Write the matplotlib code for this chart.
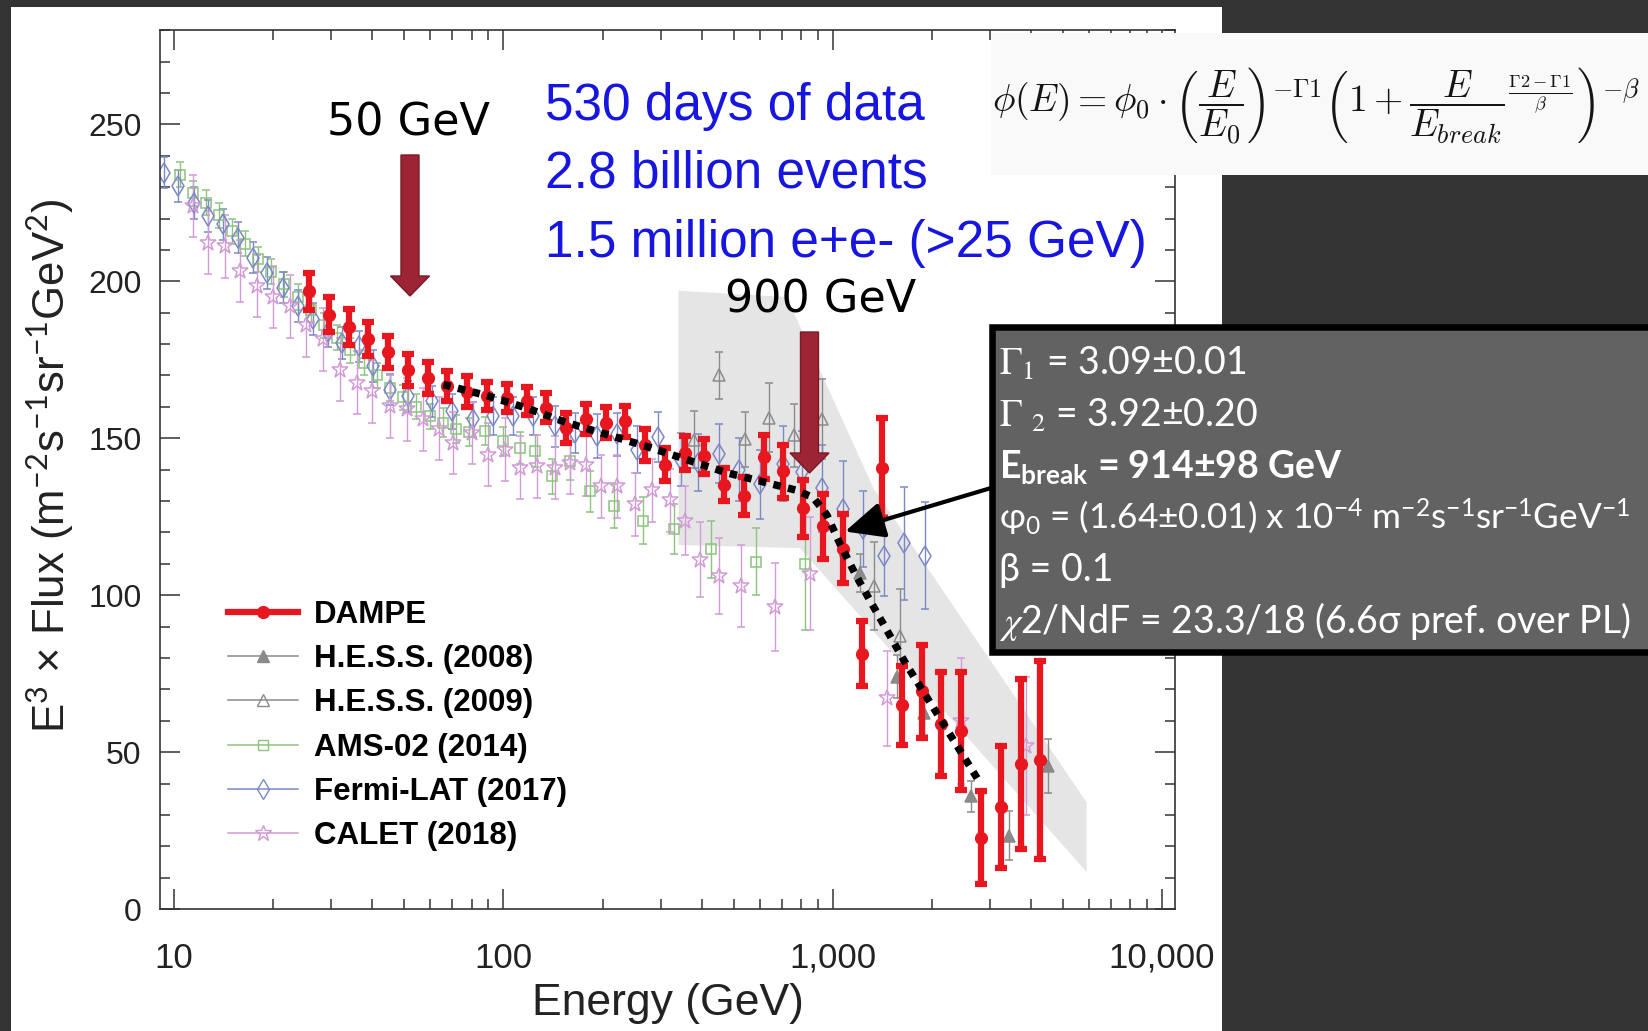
import matplotlib
matplotlib.use("Agg")
import matplotlib.pyplot as plt
from matplotlib import transforms as mtransforms
from matplotlib.patches import Rectangle, FancyArrow, FancyArrowPatch
from matplotlib.lines import Line2D
from matplotlib.ticker import (FixedLocator, FixedFormatter, LogLocator,
                               NullFormatter, MultipleLocator)

plt.rcParams['font.family'] = ['Liberation Sans', 'DejaVu Sans']
plt.rcParams['mathtext.fontset'] = 'custom'
plt.rcParams['mathtext.rm'] = 'Lato'
plt.rcParams['mathtext.it'] = 'Lato:italic'
plt.rcParams['mathtext.bf'] = 'Lato:bold'
plt.rcParams['mathtext.sf'] = 'Lato'

# ------------------------------------------------------------------ data
dampe_E = [25.7, 29.5, 33.9, 38.9, 44.7, 51.3, 58.9, 67.6, 77.6, 89.1,
           102.3, 117.5, 134.9, 154.9, 177.8, 204.2, 234.4, 269.2, 309.0, 354.8,
           407.4, 467.7, 537.0, 616.6, 707.9, 812.8, 933.3, 1071.5, 1230.3, 1412.5,
           1621.8, 1862.1, 2138.0, 2454.7, 2818.4, 3235.9, 3715.4, 4265.8]
dampe_F = [196.9, 189.4, 185.4, 181.5, 177.5, 171.9, 169.2, 166.6, 164.8, 163.5,
           162.8, 161.8, 159.7, 153.3, 156.2, 154.9, 155.4, 148.0, 141.6, 145.3,
           144.3, 135.2, 131.5, 144.0, 139.5, 127.7, 122.0, 114.8, 81.4, 140.4,
           65.0, 69.4, 58.9, 56.7, 22.7, 32.6, 46.3, 47.4]
dampe_err = [5.9, 5.6, 5.8, 5.4, 5.0, 5.1, 5.0, 4.8, 4.9, 4.4,
             4.5, 4.5, 4.6, 4.7, 4.8, 4.9, 5.0, 5.1, 5.2, 5.4,
             5.6, 5.3, 6.1, 6.9, 8.5, 9.0, 10.4, 11.0, 10.4, 15.9,
             12.6, 14.8, 16.5, 18.7, 14.8, 19.5, 27.0, 31.5]

fermi_E = [9.3, 10.3, 11.5, 12.7, 14.1, 15.6, 17.4, 19.2, 21.4, 23.8,
           26.4, 29.3, 32.3, 36.3, 40.3, 45.3, 51.4, 60.5, 69.7, 81.1,
           93.2, 107, 123, 143.5, 165, 192, 221, 254, 295, 345,
           391, 452, 520, 600, 708, 806, 930, 1077, 1238, 1431,
           1645, 1909]
fermi_F = [234.6, 230.4, 225.0, 220.8, 218.1, 213.9, 207.5, 202.7, 198.0, 192.1,
           188.0, 184.0, 180.4, 179.3, 173.0, 165.5, 163.4, 161.8, 158.6, 156.0,
           157.0, 157.0, 157.0, 153.8, 151.7, 150.6, 151.2, 146.4, 150.3, 143.2,
           142.2, 145.1, 140.0, 135.4, 141.9, 139.4, 134.0, 127.6, 121.1, 112.6,
           116.5, 112.6]
fermi_err = [5, 5, 5, 5, 5, 5, 5, 5, 5, 5,
             5, 5, 5, 5, 5, 5, 5, 5, 5.5, 5.5,
             6, 6, 6, 6.5, 6.5, 7, 7, 7.5, 8, 8.5,
             9, 9.5, 10, 11, 12, 13, 14, 15, 12, 13,
             18, 17]

ams_E = [10.4, 11.4, 12.5, 13.7, 15.0, 16.4, 18.0, 19.7, 21.6, 23.7,
         26.0, 28.5, 31.3, 34.3, 37.6, 41.2, 45.2, 49.6, 54.4, 59.7,
         65.5, 71.8, 78.8, 88, 100, 112, 125, 140, 159, 183,
         216, 265, 330, 428, 585, 825]
ams_F = [234, 228, 225, 221, 216, 212, 207, 203, 199, 195,
         191, 186, 182, 178, 174, 170, 166, 163, 160, 157,
         155, 153, 152, 152.2, 149, 146.9, 146, 137.9, 142.7, 133.1,
         128.3, 123.7, 121.0, 114.6, 110.7, 110.0]
ams_err = [4, 4, 4, 4, 4, 4, 4, 4, 4, 4,
           4, 4, 4, 4, 4, 4, 4, 4, 4, 4,
           4.5, 4.5, 4.5, 4.5, 4.5, 5, 5, 5.5, 6, 6.5,
           7, 7.5, 8, 9, 10.6, 21]

calet_E = [11.4, 12.7, 14.3, 15.9, 17.8, 20.0, 22.5, 25.2, 28.4, 31.9,
           35.9, 39.8, 45.3, 50.9, 57.0, 63.5, 70.5, 80.2, 90.0, 101,
           112, 126, 143, 159, 178, 198, 221, 250, 283, 320,
           357, 395, 450, 528, 666, 855, 1465, 2450, 3860]
calet_F = [224.0, 212.3, 211.2, 203.3, 198.5, 195.0, 192.1, 186.0, 181.5, 171.9,
           167.7, 165.0, 160.2, 159.2, 156.0, 153.0, 148.5, 151.7, 144.8, 146.4,
           140.6, 141.1, 140.6, 142.2, 141.6, 134.7, 134.7, 128.9, 133.4, 130.2,
           123.7, 111.3, 106.1, 102.9, 96.3, 106.8, 67.1, 60.0, 52.1]
calet_err = [10, 10, 10, 10, 10, 10, 10, 10, 10, 10,
             10, 10, 10, 10, 10, 10, 10, 10, 10, 10,
             10, 10, 10, 10, 10, 10, 10, 10, 10, 10,
             11, 12, 12, 13, 14, 18, 15, 20, 22]

hess08_E = [1213, 1567, 1896, 2623, 3425, 4500]
hess08_F = [107.0, 74.1, 62.5, 35.9, 23.4, 45.6]
hess08_err = [6, 7, 7, 5, 7.7, 8.5]

hess09_E = [378, 450, 543, 638, 760, 926, 1330, 1600]
hess09_F = [149.6, 170.0, 149.7, 156.5, 151.0, 156.2, 102.8, 87.0]
hess09_err = [9, 7.4, 8.8, 11, 10, 12.7, 14, 15]

fit_E = [65.7, 89, 117.7, 155.6, 206, 272, 360, 477, 631, 778, 874, 960,
         1050, 1180, 1330, 1668, 2110, 2800]
fit_F = [167.1, 163.6, 159.6, 155.0, 151.2, 147.4, 143.2, 139.0, 135.8, 133.4,
         131.0, 125.5, 116.5, 106.0, 96.3, 78.1, 61.0, 40.2]

band_E = [340, 725, 1330, 5900, 5900, 795, 340]
band_F = [197, 195, 134, 34, 11.8, 115, 116]

x_ticks = [10, 100, 1000, 10000]
x_tick_labels = ['10', '100', '1,000', '10,000']

legend_labels = ['DAMPE', 'H.E.S.S. (2008)', 'H.E.S.S. (2009)',
                 'AMS-02 (2014)', 'Fermi-LAT (2017)', 'CALET (2018)']

info_lines = [r'$\Gamma_1$ = 3.09±0.01',
              r'$\Gamma$ $_2$ = 3.92±0.20',
              r'E$_{\mathbf{break}}$ = 914±98 GeV',
              r'φ$_0$ = (1.64±0.01) x 10$^{-4}$ m$^{-2}$s$^{-1}$sr$^{-1}$GeV$^{-1}$',
              'β = 0.1',
              r'$\chi$2/NdF = 23.3/18 (6.6σ pref. over PL)']
info_math = ['stix', 'stix', 'custom', 'custom', 'custom', 'stix']
info_size = [27, 27, 27, 25.3, 27, 27]
blue_lines = ['530 days of data', '2.8 billion events', '1.5 million e+e- (>25 GeV)']
formula = (r'$\phi(E) = \phi_0 \cdot \left(\dfrac{E}{E_0}\right)^{-\Gamma 1}'
           r'\left(1 + {\dfrac{E}{E_{break}}}^{\frac{\Gamma 2-\Gamma 1}{\beta}}\right)^{-\beta}$')

# ------------------------------------------------------------------ figure
W, H = 1649, 1031
fig = plt.figure(figsize=(W / 100, H / 100), dpi=100)
fig.patch.set_facecolor('#333333')
PX = mtransforms.Affine2D().scale(1, -1).translate(0, H)   # top-left pixel coords

fig.add_artist(Rectangle((11, 7), 1211, 1030, transform=PX, facecolor='white',
                         edgecolor='none', zorder=-1))

ax = fig.add_axes([160 / W, 1 - 909.1 / H, (1175.3 - 160) / W, (909.1 - 30.2) / H])
ax.set_facecolor('none')
ax.set_xscale('log')
ax.set_xlim(9.06, 10965)
ax.set_ylim(0, 280)

RED = '#e8161e'
GRAY = '#8a8a8a'
GREEN = '#8cc47e'
BLUE = '#7c88c6'
PINK = '#d29ad6'

ax.fill(band_E, band_F, color='#e5e5e5', lw=0, zorder=0.5)

common = dict(elinewidth=1.0, capsize=3, capthick=1.0, mew=1.1, zorder=2)
ax.errorbar(ams_E, ams_F, yerr=ams_err, fmt='s', ms=7.5, mfc='none', mec=GREEN,
            ecolor=GREEN, **common)
ax.errorbar(fermi_E, fermi_F, yerr=fermi_err, fmt='d', ms=10, mfc='none', mec=BLUE,
            ecolor=BLUE, **common)
ax.errorbar(calet_E, calet_F, yerr=calet_err, fmt='*', ms=12, mfc='none', mec=PINK,
            ecolor=PINK, **common)
ax.errorbar(hess09_E, hess09_F, yerr=hess09_err, fmt='^', ms=8.5, mfc='none', mec=GRAY,
            ecolor=GRAY, **common)
ax.errorbar(hess08_E, hess08_F, yerr=hess08_err, fmt='^', ms=8.5, mfc=GRAY, mec=GRAY,
            ecolor=GRAY, **common)
ax.errorbar(dampe_E, dampe_F, yerr=dampe_err, fmt='o', ms=8.5, color=RED, mec=RED,
            elinewidth=4.5, capsize=4.5, capthick=4.5, zorder=3)
ax.plot(fit_E, fit_F, color='black', lw=5.4, ls=(0, (1.0, 1.0)),
        dash_capstyle='butt', zorder=4)

ax.xaxis.set_major_locator(FixedLocator(x_ticks))
ax.xaxis.set_major_formatter(FixedFormatter(x_tick_labels))
ax.xaxis.set_minor_locator(LogLocator(base=10, subs=[2, 3, 4, 5, 6, 7, 8, 9]))
ax.xaxis.set_minor_formatter(NullFormatter())
ax.yaxis.set_major_locator(MultipleLocator(50))
ax.yaxis.set_minor_locator(MultipleLocator(10))
ax.tick_params(which='both', direction='in', top=True, right=True,
               width=1.1, color='#333333', labelcolor='#222222')
ax.tick_params(which='major', length=14.4)
ax.tick_params(which='minor', length=7.2)
ax.tick_params(axis='x', which='major', labelsize=25, pad=23.5)
ax.tick_params(axis='y', which='major', labelsize=23, pad=13.2)
for sp in ax.spines.values():
    sp.set_linewidth(1.2)
    sp.set_color('#333333')

ax.set_ylabel(r'E$^3$ × Flux (m$^{-2}$s$^{-1}$sr$^{-1}$GeV$^2$)', fontsize=31.5,
              color='#222222')
ax.yaxis.set_label_coords(-0.083, 0.504)
ax.set_xlabel('Energy (GeV)', fontsize=32, color='#222222')
ax.xaxis.set_label_coords(0.5, -0.0841)

handles = [Line2D([], [], color=RED, lw=4.5, marker='o', ms=8.5),
           Line2D([], [], color=GRAY, lw=1.1, marker='^', ms=8.5, mfc=GRAY, mec=GRAY),
           Line2D([], [], color=GRAY, lw=1.1, marker='^', ms=8.5, mfc='none', mec=GRAY),
           Line2D([], [], color=GREEN, lw=1.1, marker='s', ms=7.5, mfc='none', mec=GREEN),
           Line2D([], [], color=BLUE, lw=1.1, marker='d', ms=10, mfc='none', mec=BLUE),
           Line2D([], [], color=PINK, lw=1.1, marker='*', ms=12, mfc='none', mec=PINK)]
ax.legend(handles, legend_labels, loc='upper left',
          bbox_to_anchor=((228.5 - 160) / 1015.3, (909.1 - 600) / 878.9),
          frameon=False, prop={'family': 'Liberation Sans', 'weight': 'bold', 'size': 22.5},
          handlelength=2.24, handletextpad=0.49, labelspacing=0.455,
          borderpad=0, borderaxespad=0)

# ------------------------------------------------------------------ annotations
def block_arrow(x, y0, y1):
    fig.add_artist(FancyArrow(x, y0, 0, y1 - y0, width=18, head_width=39,
                              head_length=20, length_includes_head=True, transform=PX,
                              facecolor='#9c2434', edgecolor='#7a1a28', lw=1, zorder=5))

block_arrow(410, 155, 296)
block_arrow(809.5, 332, 473)

fig.text(409 / W, 1 - 135 / H, '50 GeV', fontsize=32, family='DejaVu Sans',
         ha='center', va='baseline', color='black', zorder=6)
fig.text(821 / W, 1 - 313 / H, '900 GeV', fontsize=32, family='DejaVu Sans',
         ha='center', va='baseline', color='black', zorder=6)

for s, yb in zip(blue_lines, [120, 188, 257]):
    fig.text(545 / W, 1 - yb / H, s, fontsize=37, family='Liberation Sans',
             ha='left', va='baseline', color='#1616e0', zorder=6)

# formula box
fig.add_artist(Rectangle((991, 33), 700, 142, transform=PX, facecolor='#f9f9f9',
                         edgecolor='none', zorder=5))
fig.text(1316 / W, 1 - 106 / H, formula, fontsize=27, color='#151515',
         ha='center', va='center', math_fontfamily='cm', zorder=6)

# fit-result box
fig.add_artist(Rectangle((991.7, 326.5), 700, 325, transform=PX, facecolor='#626262',
                         edgecolor='black', lw=4.7, zorder=5))
for i, (s, yb) in enumerate(zip(info_lines, [375, 427, 478, 530, 581, 633])):
    fig.text(999 / W, 1 - yb / H, s, fontsize=info_size[i], family='Lato', color='white',
             ha='left', va='baseline', weight='bold' if i == 2 else 'normal',
             math_fontfamily=info_math[i], zorder=6)

fig.add_artist(FancyArrowPatch((991, 488), (845, 531.5), transform=PX,
                               arrowstyle='-|>,head_length=1.2,head_width=0.55',
                               mutation_scale=20, lw=3, color='black',
                               shrinkA=0, shrinkB=0, zorder=6))

fig.savefig('out.png', dpi=100, facecolor=fig.get_facecolor())
